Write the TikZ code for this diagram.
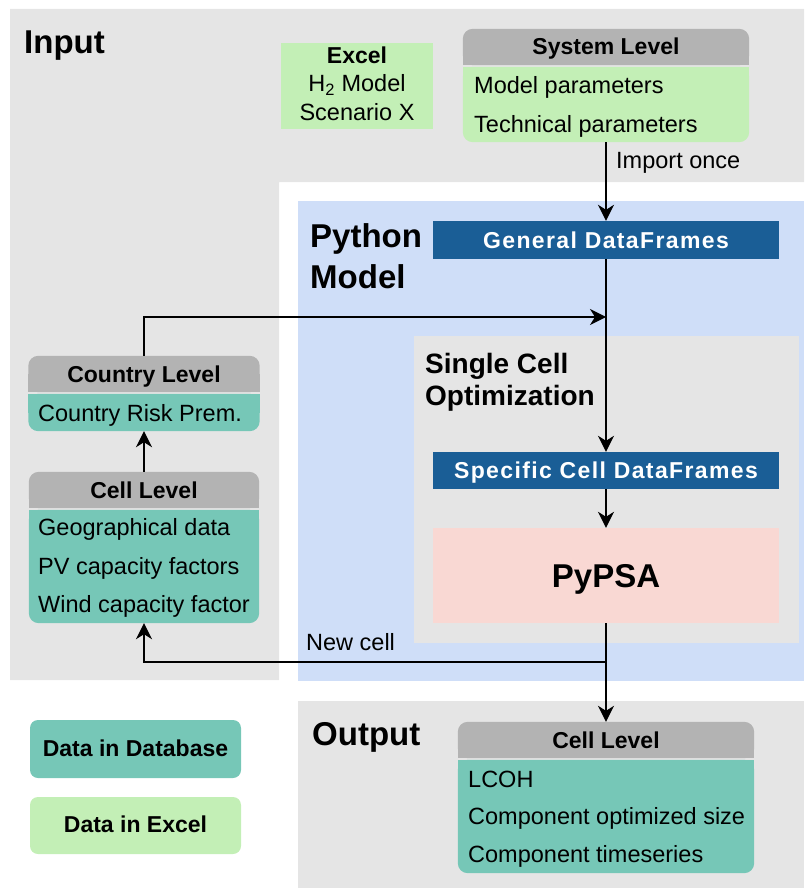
\documentclass[tikz,border=0pt]{standalone}
\usepackage{fontspec}
\setmainfont{Liberation Sans}
\usetikzlibrary{arrows.meta}

\definecolor{bggray}{RGB}{229,229,229}
\definecolor{pyblue}{RGB}{207,222,248}
\definecolor{hdrgray}{RGB}{179,179,179}
\definecolor{dbteal}{RGB}{118,199,183}
\definecolor{xlgreen}{RGB}{195,239,182}
\definecolor{dfblue}{RGB}{26,94,150}
\definecolor{pypink}{RGB}{249,216,211}

\pgfdeclarelayer{regions}
\pgfdeclarelayer{fills}
\pgfsetlayers{regions,fills,main}

% header with rounded top corners, body with rounded bottom corners
\newcommand\roundtop[2]{%
  \fill[#2,rounded corners=10pt] (#1.south west) rectangle (#1.north east);
  \fill[#2] (#1.west) rectangle (#1.south east);}
\newcommand\roundbottom[2]{%
  \fill[#2,rounded corners=10pt] (#1.south west) rectangle (#1.north east);
  \fill[#2] (#1.north west) rectangle (#1.east);}

\tikzset{
  normal/.style={font=\fontsize{23.5}{27}\selectfont},
  boldtxt/.style={font=\bfseries\fontsize{23}{27}\selectfont},
  title/.style={font=\bfseries\fontsize{33}{38}\selectfont, anchor=base west, inner sep=0pt},
  subtitle/.style={font=\bfseries\fontsize{28}{32}\selectfont, anchor=base west, inner sep=0pt},
  shell/.style={rectangle, inner sep=0pt, draw=none},
  hdr/.style={shell, boldtxt, minimum height=36pt, text height=16pt, text depth=0pt},
  line/.style={normal, anchor=base west, inner sep=0pt},
  dfbox/.style={rectangle, inner sep=0pt, fill=dfblue, text=white, minimum width=346pt,
    text height=16.5pt, text depth=0pt,
    font=\bfseries\fontsize{23}{27}\selectfont\addfontfeature{LetterSpace=6}},
  legend/.style={rectangle, rounded corners=8pt, inner sep=0pt, boldtxt,
    minimum width=211pt, text height=14pt, text depth=0pt},
  conn/.style={line width=1.6pt, -{Stealth[length=16pt,width=16pt,inset=5pt]}},
}

\begin{document}
\begin{tikzpicture}[x=1pt,y=-1pt]
\useasboundingbox (0,0) rectangle (804,888);

% regions
\begin{pgfonlayer}{regions}
\fill[bggray] (10,9) -- (804,9) -- (804,182) -- (279,182) -- (279,680) -- (10,680) -- cycle;
\fill[pyblue] (298,201) rectangle (804,681);
\fill[bggray] (414,336) rectangle (799,643);
\fill[bggray] (298,701) rectangle (804,888);
\end{pgfonlayer}

% region titles
\node[title] (tin) at (24,54) {Input};
\node[title] (tpy) at (310,247) {Python};
\node[title] (tpy2) at (310,288) {Model};
\node[subtitle] (tsc) at (425,373) {Single Cell};
\node[subtitle] (tsc2) at (425,405) {Optimization};
\node[title] (tout) at (312,745) {Output};

% Excel scenario
\node[rectangle, fill=xlgreen, minimum width=152pt, minimum height=86pt, inner sep=0pt] (excel) at (357,86) {};
\node[boldtxt, anchor=base, inner sep=0pt] (ex1) at (357,64) {Excel};
\node[normal, anchor=base, inner sep=0pt] (ex2) at (357,92) {H\textsubscript{2} Model};
\node[normal, anchor=base, inner sep=0pt] (ex3) at (357,121) {Scenario X};

% System level
\node[hdr, minimum width=286pt] (sysh) at (606,47) {System Level};
\node[shell, minimum width=286pt, minimum height=75pt] (sysb) at (606,104.5) {};
\node[line] (sys1) at (474,94) {Model parameters};
\node[line] (sys2) at (474,132) {Technical parameters};

% Country level
\node[hdr, minimum width=231pt] (ctryh) at (144,374) {Country Level};
\node[shell, minimum width=231pt, minimum height=37pt] (ctryb) at (144,412.5) {};
\node[line] (ctry1) at (38,421) {Country Risk Prem.};

% Cell level (input)
\node[hdr, minimum width=230pt] (cellh) at (144,490) {Cell Level};
\node[shell, minimum width=230pt, minimum height=113pt] (cellb) at (144,566.5) {};
\node[line] (cell1) at (38,535) {Geographical data};
\node[line] (cell2) at (38,574) {PV capacity factors};
\node[line] (cell3) at (38,612) {Wind capacity factor};

% Python model
\node[dfbox, minimum height=38pt] (gdf) at (606,240) {General DataFrames};
\node[dfbox, minimum height=37pt] (scdf) at (606,470.5) {Specific Cell DataFrames};
\node[rectangle, fill=pypink, minimum width=346pt, minimum height=95pt, inner sep=0pt,
  text height=24pt, text depth=0pt, font=\bfseries\fontsize{33}{38}\selectfont] (pypsa) at (606,575.5) {PyPSA};

% Cell level (output)
\node[hdr, minimum width=296pt] (outh) at (606,740) {Cell Level};
\node[shell, minimum width=296pt, minimum height=113pt] (outb) at (606,816.5) {};
\node[line] (out1) at (468,787) {LCOH};
\node[line] (out2) at (468,824) {Component optimized size};
\node[line] (out3) at (468,862) {Component timeseries};

% legend
\node[legend, fill=dbteal, minimum height=58pt] (leg1) at (135.5,749) {Data in Database};
\node[legend, fill=xlgreen, minimum height=57pt] (leg2) at (135.5,825.5) {Data in Excel};

% box fills behind the texts
\begin{pgfonlayer}{fills}
  \roundtop{sysh}{hdrgray}
  \roundbottom{sysb}{xlgreen}
  \roundtop{ctryh}{hdrgray}
  \roundbottom{ctryb}{dbteal}
  \roundtop{cellh}{hdrgray}
  \roundbottom{cellb}{dbteal}
  \roundtop{outh}{hdrgray}
  \roundbottom{outb}{dbteal}
\end{pgfonlayer}

% connectors
\coordinate (merge) at (606,317);
\coordinate (split) at (606,662);
\draw[conn] (sysb.south) -- (gdf.north);
\draw[conn] (gdf.south) -- (scdf.north);
\draw[conn] (ctryh.north) |- (merge);
\draw[conn] (cellh.north) -- (ctryb.south);
\draw[conn] (scdf.south) -- (pypsa.north);
\draw[conn] (pypsa.south) -- (outh.north);
\draw[conn] (split) -| (cellb.south);

\node[line] (imp) at (616,168) {Import once};
\node[line] (newc) at (306,650) {New cell};
\end{tikzpicture}
\end{document}
